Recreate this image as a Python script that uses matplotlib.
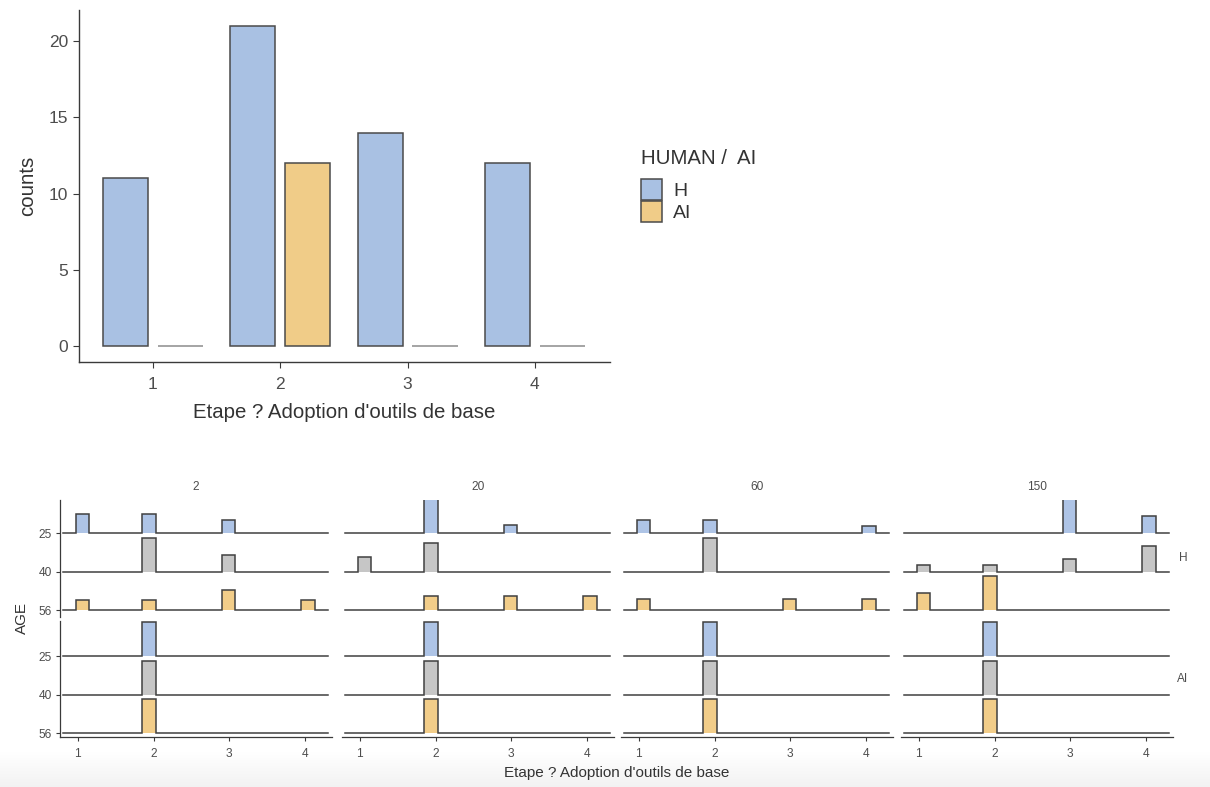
import numpy as np
import matplotlib
matplotlib.use("Agg")
import matplotlib.pyplot as plt
from matplotlib.patches import Rectangle

plt.rcParams['font.family'] = ['Liberation Sans', 'DejaVu Sans']

# ---- data ----
etapes = [1, 2, 3, 4]
counts_h = [11, 21, 14, 12]
counts_ai = [0, 12, 0, 0]

periods = ['2', '20', '60', '150']
ages = ['25', '40', '56']
groups = ['H', 'AI']

# ridge counts: rows = AGE 25, 40, 56 ; columns = etape 1..4
h_2 = [[3, 3, 2, 0], [0, 2, 1, 0], [1, 1, 2, 1]]
h_20 = [[0, 4, 1, 0], [1, 2, 0, 0], [0, 1, 1, 1]]
h_60 = [[2, 2, 0, 1], [0, 3, 0, 0], [1, 0, 1, 1]]
h_150 = [[0, 0, 2, 1], [1, 1, 2, 4], [1, 2, 0, 0]]
ai_2 = [[0, 1, 0, 0], [0, 1, 0, 0], [0, 1, 0, 0]]
ai_20 = [[0, 1, 0, 0], [0, 1, 0, 0], [0, 1, 0, 0]]
ai_60 = [[0, 1, 0, 0], [0, 1, 0, 0], [0, 1, 0, 0]]
ai_150 = [[0, 1, 0, 0], [0, 1, 0, 0], [0, 1, 0, 0]]
ridges = {'H': [h_2, h_20, h_60, h_150], 'AI': [ai_2, ai_20, ai_60, ai_150]}

# ---- style ----
col_h, col_ai = '#a9c1e3', '#f0cc88'
age_colors = ['#aec4e6', '#c6c6c6', '#f2cd89']
dark = '#3a3a3a'
txt = '#4d4d4d'
W, H = 1210, 787

BIN_W, BIN0 = 0.175, 0.977
LINE_LO, LINE_HI = 0.802, 4.302
RIDGE_MAX = 0.88


def px_axes(fig, x0, y0, x1, y1):
    return fig.add_axes([x0 / W, 1 - y1 / H, (x1 - x0) / W, (y1 - y0) / H])


fig = plt.figure(figsize=(W / 100, H / 100), dpi=100)

# faint screenshot shadow at the bottom
bg = px_axes(fig, 0, 752, W, H)
grad = np.linspace(1.0, 0.95, 50)[:, None] * np.ones((1, 10))
bg.imshow(np.dstack([grad] * 3), aspect='auto', extent=[0, 1, 0, 1])
bg.set_axis_off()

# ---- top bar chart ----
ax = px_axes(fig, 79, 10, 610, 362)
x = np.array(etapes)
ax.bar(x - 0.215, counts_h, width=0.355, color=col_h, edgecolor='#4a4a4a', lw=1.1)
ax.bar(x + 0.215, counts_ai, width=0.355, color=col_ai,
       edgecolor=['#4a4a4a' if c else '#8c8c8c' for c in counts_ai], lw=1.1)
ax.set_xlim(0.42, 4.59)
ax.set_ylim(-1.05, 22.05)
ax.set_xticks(etapes)
ax.set_yticks([0, 5, 10, 15, 20])
for s in ['top', 'right']:
    ax.spines[s].set_visible(False)
for s in ['left', 'bottom']:
    ax.spines[s].set_color(dark)
    ax.spines[s].set_linewidth(1.0)
ax.tick_params(length=4, color=dark, labelsize=12.5, labelcolor=txt)
ax.tick_params(axis='x', pad=7)
ax.tick_params(axis='y', pad=4)
ax.set_xlabel("Etape ? Adoption d'outils de base", fontsize=14.7, color='#333333', labelpad=8)
ax.set_ylabel('counts', fontsize=14.7, color='#333333', labelpad=8)

# legend drawn by hand
fig.text(641 / W, 1 - 159 / H, 'HUMAN /  AI', fontsize=14.7, color='#333333', va='center')
for i, (lab, c) in enumerate(zip(groups, [col_h, col_ai])):
    y0 = 179 + i * 22
    fig.add_artist(Rectangle((641 / W, 1 - (y0 + 21) / H), 21 / W, 21 / H,
                             transform=fig.transFigure, facecolor=c, edgecolor='#4a4a4a', lw=1.1))
    fig.text(673 / W, 1 - (y0 + 12) / H, lab, fontsize=14, color='#333333', va='center')

# ---- ridgeline facet grid ----
col_lefts = [60, 342, 621, 901]
panel_w = 272
row_spans = {'H': (500, 617, 0.82, 3.86), 'AI': (621, 737, 0.90, 3.91)}

for ci, per in enumerate(periods):
    x0 = col_lefts[ci]
    for g in groups:
        y0, y1, ylo, yhi = row_spans[g]
        a = px_axes(fig, x0, y0, x0 + panel_w, y1)
        a.set_xlim(0.765, 4.357)
        a.set_ylim(ylo, yhi)
        counts = np.array(ridges[g][ci], dtype=float)
        dens = counts / counts.sum(axis=1, keepdims=True)
        scale = RIDGE_MAX / dens.max()
        for ai_, age in enumerate(ages):
            base = len(ages) - ai_
            xs, ys = [LINE_LO], [base]
            for e, d in zip(etapes, dens[ai_]):
                if d <= 0:
                    continue
                left = BIN0 + np.floor((e - BIN0) / BIN_W) * BIN_W
                right = left + BIN_W
                h = d * scale
                xs += [left, left, right, right]
                ys += [base, base + h, base + h, base]
            xs.append(LINE_HI)
            ys.append(base)
            a.fill_between(xs, base, ys, color=age_colors[ai_], lw=0, zorder=2 + ai_)
            a.plot(xs, ys, color='#404040', lw=1.1, zorder=2.5 + ai_,
                   solid_joinstyle='miter')
        for s in ['top', 'right']:
            a.spines[s].set_visible(False)
        if ci == 0:
            a.spines['left'].set_color(dark)
            a.spines['left'].set_linewidth(0.9)
            a.set_yticks([3, 2, 1])
            a.set_yticklabels(ages)
        else:
            a.spines['left'].set_visible(False)
            a.set_yticks([])
        if g == 'AI':
            a.spines['bottom'].set_color(dark)
            a.spines['bottom'].set_linewidth(0.9)
            a.set_xticks(etapes)
        else:
            a.spines['bottom'].set_visible(False)
            a.set_xticks([])
        a.tick_params(length=3, color=dark, labelsize=8.6, labelcolor=txt, pad=3)
        a.tick_params(axis='x', pad=5)
        a.patch.set_alpha(0)
    fig.text((x0 + panel_w / 2) / W, 1 - 487 / H, per, fontsize=8.6, color=txt,
             ha='center', va='center')

fig.text(1183 / W, 1 - 558 / H, 'H', fontsize=8.6, color=txt, ha='center', va='center')
fig.text(1183 / W, 1 - 679 / H, 'AI', fontsize=8.6, color=txt, ha='center', va='center')
fig.text(22 / W, 1 - 618 / H, 'AGE', fontsize=11, color='#333333', rotation=90,
         ha='center', va='center')
fig.text(617 / W, 1 - 773 / H, "Etape ? Adoption d'outils de base", fontsize=11,
         color='#333333', ha='center', va='center')

fig.savefig('out.png', dpi=100)
